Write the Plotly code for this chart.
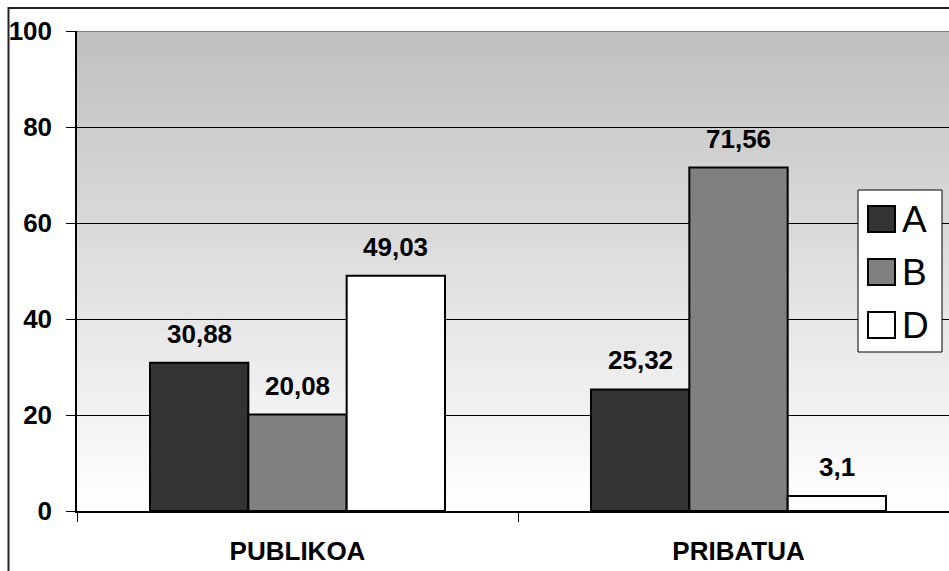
import plotly.graph_objects as go

# -------------------------------
# data
# -------------------------------
categories = ["PUBLIKOA", "PRIBATUA"]
series_names = ["A", "B", "D"]
values_a = [30.88, 25.32]
values_b = [20.08, 71.56]
values_d = [49.03, 3.1]
y_ticks = [0, 20, 40, 60, 80, 100]

series_values = [values_a, values_b, values_d]
colors = ["#333333", "#808080", "#ffffff"]

# the page body margin is removed, so the figure fills the window
W, H = 949, 571
PLOT_L, PLOT_T, PLOT_B, PLOT_R = 77, 31, 511, 959   # window pixels
ML, MT, MB = PLOT_L, PLOT_T, H - PLOT_B
BARGAP = 0.331
FONT = "Liberation Sans, Arial, sans-serif"

plot_w = W - ML
plot_h = H - MT - MB


def px_x(px):
    return (px - PLOT_L) / plot_w


def px_y(py):
    return (PLOT_B - py) / plot_h


fig = go.Figure()

for name, vals, col in zip(series_names, series_values, colors):
    fig.add_trace(go.Bar(
        x=categories, y=vals, name=name,
        marker=dict(color=col, line=dict(color="black", width=2)),
        showlegend=False,
    ))

# value labels above the bars
bw = (1 - BARGAP) / len(series_names)
annotations = []
for j, vals in enumerate(series_values):
    for i, v in enumerate(vals):
        annotations.append(dict(
            x=i + (j - 1) * bw, y=v, xref="x", yref="y",
            text=f"<b>{str(v).replace('.', ',')}</b>",
            showarrow=False, yshift=29,
            font=dict(family=FONT, size=26, color="black"),
        ))

shapes = []
# gradient background (grey at top -> white at bottom)
n_bands = 80
top = (0xc0, 0xc0, 0xc0)
for k in range(n_bands):
    t = k / (n_bands - 1)
    c = [round(255 + (tc - 255) * t) for tc in top]
    shapes.append(dict(
        type="rect", xref="paper", yref="y",
        x0=0, x1=1, y0=100 * k / n_bands, y1=100 * (k + 1) / n_bands,
        fillcolor=f"rgb({c[0]},{c[1]},{c[2]})", line=dict(width=0), layer="below",
    ))
# grey top border of plot area
shapes.append(dict(type="line", xref="paper", yref="y", x0=0, x1=1, y0=100, y1=100,
                   line=dict(color="#808080", width=2)))
# outer chart frame
shapes.append(dict(type="rect", xref="paper", yref="paper",
                   x0=px_x(8.5), x1=px_x(W + 40), y0=px_y(H + 40), y1=px_y(8),
                   line=dict(color="#222222", width=2), fillcolor="rgba(0,0,0,0)"))

# legend drawn by hand (large squares like the original)
shapes.append(dict(type="rect", xref="paper", yref="paper",
                   x0=px_x(858), x1=px_x(942), y0=px_y(352), y1=px_y(190),
                   line=dict(color="black", width=1), fillcolor="white"))
leg_y = [219, 272, 325]
for name, col, cy in zip(series_names, colors, leg_y):
    shapes.append(dict(type="rect", xref="paper", yref="paper",
                       x0=px_x(868), x1=px_x(895), y0=px_y(cy + 13), y1=px_y(cy - 13),
                       line=dict(color="black", width=2), fillcolor=col))
    annotations.append(dict(x=px_x(900), y=px_y(cy), xref="paper", yref="paper",
                            xanchor="left", yanchor="middle", text=name, showarrow=False,
                            font=dict(family=FONT, size=37, color="black")))

fig.update_layout(
    width=W, height=H,
    margin=dict(l=ML, r=0, t=MT, b=MB),
    paper_bgcolor="white", plot_bgcolor="rgba(0,0,0,0)",
    barmode="group", bargap=BARGAP, bargroupgap=0,
    shapes=shapes, annotations=annotations,
    font=dict(family=FONT, color="black"),
)
# category slots are 441px wide; the plot area runs past the window's right edge
slot = (PLOT_R - PLOT_L) / 2
fig.update_xaxes(
    type="category", range=[-0.5, -0.5 + plot_w / slot],
    showline=True, linecolor="black", linewidth=1.5,
    ticks="outside", tickson="boundaries", ticklen=9, tickcolor="black",
    tickfont=dict(family=FONT, size=26, color="black"),
    tickvals=categories, ticktext=[f"<b>{c}</b>" for c in categories],
    ticklabelstandoff=16, showgrid=False,
)
fig.update_yaxes(
    range=[0, 100], tickvals=y_ticks,
    ticktext=[f"<b>{t}</b>" for t in y_ticks],
    showline=True, linecolor="black", linewidth=1.5,
    ticks="outside", ticklen=9, tickcolor="black",
    tickfont=dict(family=FONT, size=26, color="black"),
    ticklabelstandoff=9,
    showgrid=True, gridcolor="black", gridwidth=1, zeroline=False,
)

fig.write_html("out.html", config={"displayModeBar": False},
               post_script="document.body.style.margin='0';")
